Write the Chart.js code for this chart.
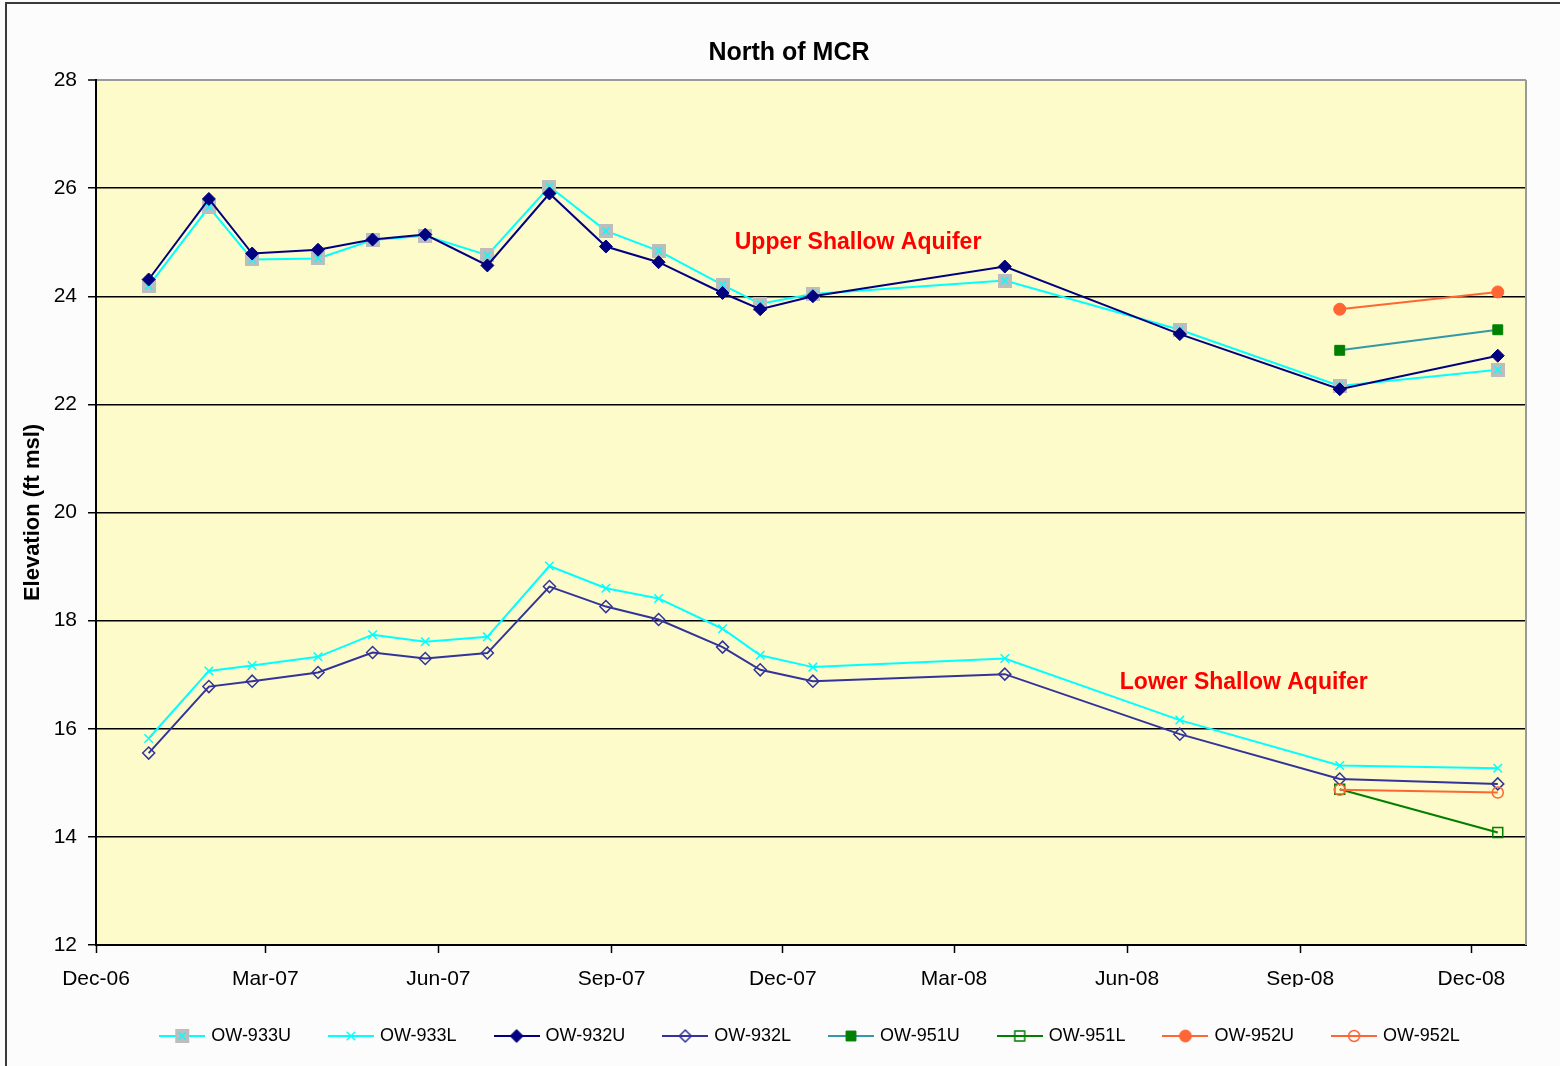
<!DOCTYPE html>
<html lang="en">
<head>
<meta charset="UTF-8">
<title>North of MCR</title>
<style>
    * {
        margin: 0;
        padding: 0;
        box-sizing: border-box;
    }

    body {
        background: #fcfcfc;
    }

    .chart-box {
        position: relative;
        width: 1560px;
        height: 1066px;
    }
</style>
</head>
<body>
<div class="chart-box"><canvas id="levels"></canvas></div>

<script src="https://cdn.jsdelivr.net/npm/chart.js@4.4.0/dist/chart.umd.min.js"></script>
<script>
    // Gauging rounds for the 93x wells
    const sampleDates = [
        '2006-12-29', '2007-01-30', '2007-02-22', '2007-03-29', '2007-04-27', '2007-05-25',
        '2007-06-27', '2007-07-30', '2007-08-29', '2007-09-26', '2007-10-30', '2007-11-19',
        '2007-12-17', '2008-03-28', '2008-06-29', '2008-09-22', '2008-12-15'
    ];
    // The 95x wells were only gauged in the last two rounds
    const newWellDates = ['2008-09-22', '2008-12-15'];

    // Water level elevations, ft msl
    const ow933U = [24.19, 25.65, 24.68, 24.70, 25.04, 25.12, 24.76, 26.03, 25.21, 24.84, 24.21, 23.86, 24.04, 24.29, 23.38, 22.34, 22.64];
    const ow933L = [15.82, 17.07, 17.17, 17.33, 17.74, 17.61, 17.70, 19.01, 18.60, 18.41, 17.85, 17.36, 17.14, 17.30, 16.16, 15.32, 15.27];
    const ow932U = [24.31, 25.80, 24.79, 24.86, 25.05, 25.14, 24.57, 25.90, 24.92, 24.63, 24.06, 23.76, 24.00, 24.55, 23.30, 22.28, 22.90];
    const ow932L = [15.55, 16.78, 16.88, 17.04, 17.41, 17.30, 17.40, 18.63, 18.26, 18.02, 17.51, 17.09, 16.88, 17.01, 15.90, 15.07, 14.98];
    const ow951U = [23.00, 23.38];
    const ow951L = [14.88, 14.08];
    const ow952U = [23.76, 24.08];
    const ow952L = [14.87, 14.82];

    // Date axis
    const axisStart = '2006-12-01';
    const axisEnd = '2008-12-30';
    const tickDates = ['2006-12-01', '2007-03-01', '2007-06-01', '2007-09-01', '2007-12-01',
                       '2008-03-01', '2008-06-01', '2008-09-01', '2008-12-01'];
    const tickLabels = ['Dec-06', 'Mar-07', 'Jun-07', 'Sep-07', 'Dec-07', 'Mar-08', 'Jun-08', 'Sep-08', 'Dec-08'];

    const notes = [
        { text: 'Upper Shallow Aquifer', date: '2008-01-10', level: 25.0 },
        { text: 'Lower Shallow Aquifer', date: '2008-08-02', level: 16.85 }
    ];

    // Dates go on a linear axis as days since the axis start
    function utc(s) {
        const [y, m, d] = s.split('-').map(Number);
        return Date.UTC(y, m - 1, d);
    }
    function dayOf(s) {
        return (utc(s) - utc(axisStart)) / 86400000;
    }
    function toPoints(dates, values) {
        return dates.map((d, i) => ({ x: dayOf(d), y: values[i] }));
    }

    // Excel-style "x" marker on a grey box
    function greyBoxCross(size) {
        const c = document.createElement('canvas');
        c.width = c.height = size;
        const g = c.getContext('2d');
        g.fillStyle = '#bdbdbd';
        g.fillRect(0, 0, size, size);
        g.strokeStyle = '#00ffff';
        g.lineWidth = 1.5;
        const m = size * 0.25;
        g.beginPath();
        g.moveTo(m, m); g.lineTo(size - m, size - m);
        g.moveTo(size - m, m); g.lineTo(m, size - m);
        g.stroke();
        return c;
    }

    const hollow = 'rgba(0,0,0,0)';

    const datasets = [
        { label: 'OW-933U', data: toPoints(sampleDates, ow933U), borderColor: '#00ffff',
          pointStyle: greyBoxCross(14), pointRadius: 7 },
        { label: 'OW-933L', data: toPoints(sampleDates, ow933L), borderColor: '#00ffff',
          pointStyle: 'crossRot', pointRadius: 6, pointBorderColor: '#00ffff', pointBackgroundColor: '#00ffff', pointBorderWidth: 1.5 },
        { label: 'OW-932U', data: toPoints(sampleDates, ow932U), borderColor: '#000080',
          pointStyle: 'rectRot', pointRadius: 6.5, pointBorderColor: '#000080', pointBackgroundColor: '#000080', pointBorderWidth: 1 },
        { label: 'OW-932L', data: toPoints(sampleDates, ow932L), borderColor: '#333399',
          pointStyle: 'rectRot', pointRadius: 6, pointBorderColor: '#333399', pointBackgroundColor: hollow, pointBorderWidth: 1.5 },
        { label: 'OW-951U', data: toPoints(newWellDates, ow951U), borderColor: '#3399aa',
          pointStyle: 'rect', pointRadius: 7, pointBorderColor: '#008000', pointBackgroundColor: '#008000', pointBorderWidth: 1 },
        { label: 'OW-951L', data: toPoints(newWellDates, ow951L), borderColor: '#008000',
          pointStyle: 'rect', pointRadius: 7, pointBorderColor: '#008000', pointBackgroundColor: hollow, pointBorderWidth: 1.5 },
        { label: 'OW-952U', data: toPoints(newWellDates, ow952U), borderColor: '#ff6633',
          pointStyle: 'circle', pointRadius: 6, pointBorderColor: '#ff6633', pointBackgroundColor: '#ff6633', pointBorderWidth: 1 },
        { label: 'OW-952L', data: toPoints(newWellDates, ow952L), borderColor: '#ff6633',
          pointStyle: 'circle', pointRadius: 5.5, pointBorderColor: '#ff6633', pointBackgroundColor: hollow, pointBorderWidth: 1.5 }
    ];

    datasets.forEach((ds, i) => {
        ds.borderWidth = 2;
        ds.fill = false;
        ds.tension = 0;
        ds.order = -i; // later series sit on top, like in Excel
    });

    // Legend swatch: a short line with the marker in the middle
    function legendIcon(ds) {
        const w = 46, h = 18;
        const c = document.createElement('canvas');
        c.width = w;
        c.height = h;
        const g = c.getContext('2d');
        g.strokeStyle = ds.borderColor;
        g.lineWidth = 2;
        g.beginPath();
        g.moveTo(0, h / 2);
        g.lineTo(w, h / 2);
        g.stroke();
        if (ds.pointStyle instanceof HTMLCanvasElement) {
            g.drawImage(ds.pointStyle, (w - ds.pointStyle.width) / 2, (h - ds.pointStyle.height) / 2);
        } else {
            g.fillStyle = ds.pointBackgroundColor;
            g.strokeStyle = ds.pointBorderColor;
            g.lineWidth = ds.pointBorderWidth;
            Chart.helpers.drawPoint(g, {
                pointStyle: ds.pointStyle,
                radius: ds.pointRadius,
                borderWidth: ds.pointBorderWidth,
                rotation: 0
            }, w / 2, h / 2);
        }
        return c;
    }
    const legendIcons = datasets.map(legendIcon);

    // Page background, outer frame and the yellow plot area
    const chartFrame = {
        id: 'chartFrame',
        beforeDraw(chart) {
            const { ctx, width, height, chartArea: a } = chart;
            ctx.save();
            ctx.fillStyle = '#fcfcfc';
            ctx.fillRect(0, 0, width, height);
            ctx.strokeStyle = '#3a3a3a';
            ctx.lineWidth = 2;
            ctx.beginPath();
            ctx.moveTo(6, height);
            ctx.lineTo(6, 3);
            ctx.lineTo(width, 3);
            ctx.stroke();
            ctx.fillStyle = '#fcfbc9';
            ctx.fillRect(a.left, a.top, a.right - a.left, a.bottom - a.top);
            ctx.restore();
        },
        beforeDatasetsDraw(chart) {
            const { ctx, chartArea: a } = chart;
            ctx.save();
            ctx.strokeStyle = '#999999';
            ctx.lineWidth = 2;
            ctx.beginPath();
            ctx.moveTo(a.right, a.top);
            ctx.lineTo(a.right, a.bottom);
            ctx.stroke();
            ctx.restore();
        },
        afterLayout(chart) {
            // title is centred on the full frame, which runs past the right edge
            chart.titleBlock.left += 44;
        }
    };

    // Red aquifer labels
    const aquiferNotes = {
        id: 'aquiferNotes',
        afterDatasetsDraw(chart) {
            const { ctx, scales } = chart;
            ctx.save();
            ctx.font = 'bold 23px "Liberation Sans", Arial, sans-serif';
            ctx.fillStyle = '#ff0000';
            ctx.textAlign = 'center';
            ctx.textBaseline = 'middle';
            notes.forEach(n => {
                ctx.fillText(n.text, scales.x.getPixelForValue(dayOf(n.date)), scales.y.getPixelForValue(n.level));
            });
            ctx.restore();
        }
    };

    Chart.defaults.font.family = '"Liberation Sans", Arial, sans-serif';
    Chart.defaults.color = '#000';

    new Chart(document.getElementById('levels'), {
        type: 'line',
        data: { datasets },
        plugins: [chartFrame, aquiferNotes],
        options: {
            responsive: true,
            maintainAspectRatio: false,
            animation: false,
            layout: { padding: { left: 8, right: 34, top: 0, bottom: 11 } },
            plugins: {
                title: {
                    display: true,
                    text: 'North of MCR',
                    color: '#000',
                    font: { size: 25, weight: 'bold' },
                    padding: { top: 38, bottom: 12 }
                },
                legend: {
                    position: 'bottom',
                    fullSize: false,
                    labels: {
                        usePointStyle: true,
                        pointStyleWidth: 40,
                        padding: 40,
                        color: '#000',
                        font: { size: 18 },
                        sort: (a, b) => a.datasetIndex - b.datasetIndex,
                        generateLabels(chart) {
                            const items = Chart.defaults.plugins.legend.labels.generateLabels(chart);
                            items.forEach(item => { item.pointStyle = legendIcons[item.datasetIndex]; });
                            return items;
                        }
                    }
                },
                tooltip: { enabled: false }
            },
            scales: {
                x: {
                    type: 'linear',
                    min: 0,
                    max: dayOf(axisEnd),
                    afterBuildTicks(axis) {
                        axis.ticks = tickDates.map(d => ({ value: dayOf(d) }));
                    },
                    afterFit(axis) {
                        axis.height = 42;
                    },
                    ticks: {
                        autoSkip: false,
                        maxRotation: 0,
                        padding: 14,
                        font: { size: 21 },
                        callback: (value, index) => tickLabels[index]
                    },
                    grid: {
                        drawOnChartArea: false,
                        drawTicks: true,
                        tickLength: 8,
                        tickColor: '#000',
                        tickWidth: 1.5
                    },
                    border: { color: '#000', width: 2 }
                },
                y: {
                    min: 12,
                    max: 28,
                    afterFit(axis) {
                        axis.width = 88;
                    },
                    ticks: {
                        stepSize: 2,
                        padding: 11,
                        font: { size: 21 }
                    },
                    grid: {
                        color: c => c.tick.value === 28 ? '#999999' : '#000',
                        lineWidth: c => c.tick.value === 28 ? 2 : 1.5,
                        tickLength: 8,
                        tickColor: '#000',
                        tickWidth: 1.5
                    },
                    border: { color: '#000', width: 2 },
                    title: {
                        display: true,
                        text: 'Elevation (ft msl)',
                        color: '#000',
                        font: { size: 22, weight: 'bold' },
                        padding: { top: 12, bottom: 0 }
                    }
                }
            }
        }
    });
</script>
</body>
</html>
